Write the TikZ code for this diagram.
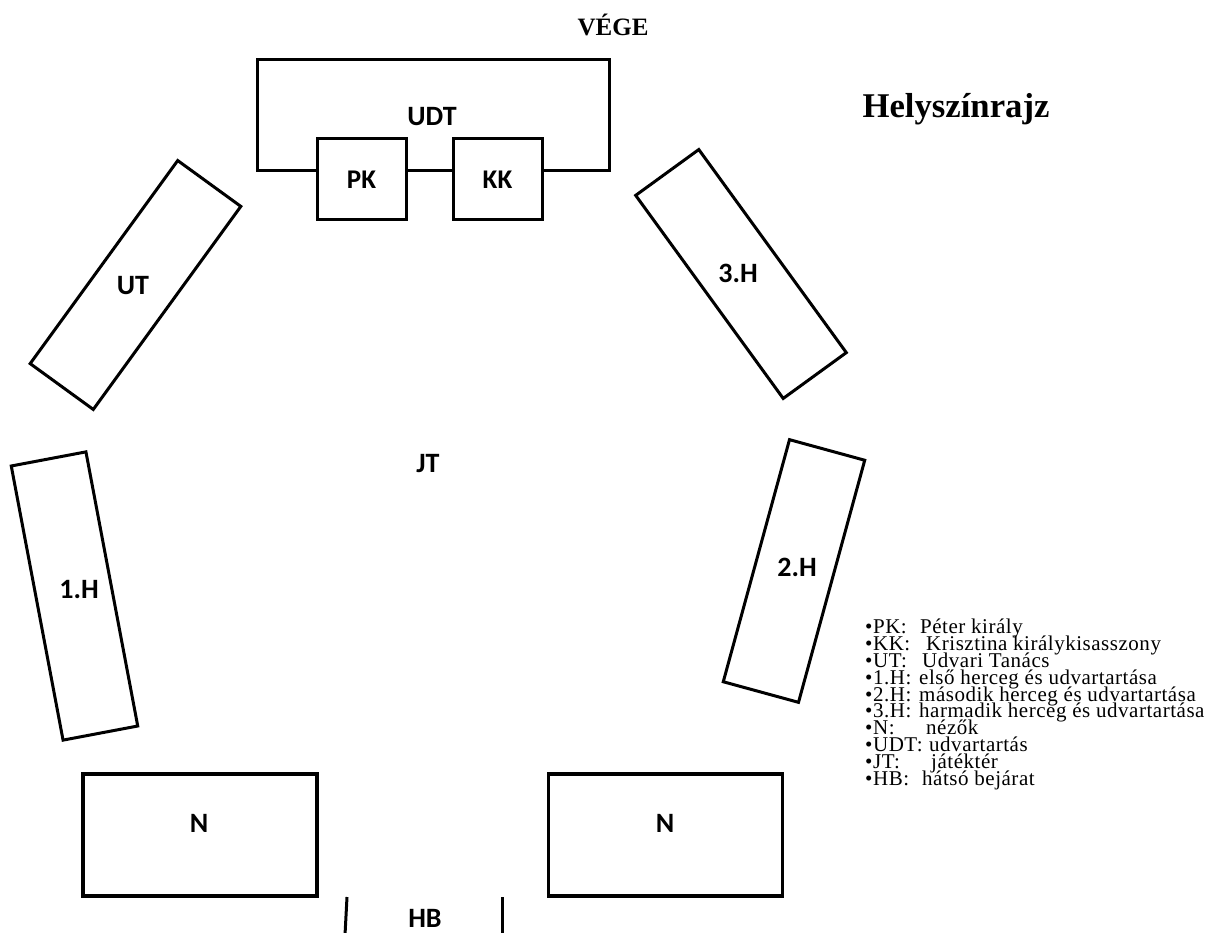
\documentclass[tikz,border=0pt]{standalone}
\usepackage{fontspec}
\setmainfont{Liberation Serif}
\setsansfont{Carlito}
\newfontfamily\legfont[LetterSpace=2.5]{Liberation Serif}
\begin{document}
\begin{tikzpicture}[x=1pt,y=-1pt,
  box/.style={draw, line width=3pt, minimum width=78pt, minimum height=251pt, inner sep=0pt},
  nbox/.style={draw, line width=3.5pt, minimum width=234pt, minimum height=122pt, inner sep=0pt},
  sqbox/.style={draw, line width=3pt, minimum width=89pt, minimum height=81pt, inner sep=0pt, font={\sffamily\bfseries\fontsize{27}{30}\selectfont}},
  lab/.style={inner sep=0pt, font={\sffamily\bfseries\fontsize{28}{30}\selectfont}},
  wall/.style={line width=3pt},
  leg/.style={anchor=north west, inner sep=0pt, align=left,
    font={\legfont\fontsize{21}{16.8}\selectfont\lineskiplimit -100pt\lineskip 0pt}},
  ttl/.style={anchor=base, inner sep=0pt, font={\bfseries\fontsize{25}{25}\selectfont}}
]
\useasboundingbox (0,0) rectangle (1208,933);

% titles
\node[ttl] (vege) at (613,36) {VÉGE};
\node[anchor=base, inner sep=0pt, font={\bfseries\fontsize{34.7}{36}\selectfont}] (title) at (956,118) {Helyszínrajz};

% UDT
\coordinate (udtbl) at (257,171);
\coordinate (udttl) at (257,60);
\coordinate (udttr) at (609,60);
\coordinate (udtbr) at (609,171);
\node[sqbox] (pk) at (361.5,179.5) {PK};
\node[sqbox] (kk) at (497.5,179.5) {KK};
\node[lab] (udt) at (432,117) {UDT};
\draw[wall, line join=miter] (pk.west |- udtbl) -- (udtbl) -- (udttl) -- (udttr) -- (udtbr) -- (kk.east |- udtbr);
\draw[wall] (pk.east |- udtbl) -- (kk.west |- udtbl);

% side boxes
\node[box, rotate=-36] (ut) at (135.5,285) {};
\node[lab] (utt) at (133,286) {UT};
\node[box, rotate=36] (h3) at (741,274) {};
\node[lab] (h3t) at (738,273) {3.H};
\node[box, rotate=10.7, minimum width=76pt, minimum height=279pt] (h1) at (74.5,596) {};
\node[lab] (h1t) at (79,590) {1.H};
\node[box, rotate=-15.3] (h2) at (794,571) {};
\node[lab] (h2t) at (797,567) {2.H};

% playing area
\node[lab] (jt) at (428,464) {JT};

% spectators
\node[nbox] (nl) at (200,835) {};
\node[lab] (nlt) at (199,823) {N};
\node[nbox] (nr) at (665.5,835) {};
\node[lab] (nrt) at (665,823) {N};

% back entrance
\coordinate (hbl1) at (347,897);
\coordinate (hbl2) at (345,935);
\coordinate (hbr1) at (502,897);
\coordinate (hbr2) at (502,935);
\draw[wall] (hbl1) -- (hbl2);
\draw[wall] (hbr1) -- (hbr2);
\node[lab] (hb) at (425,918) {HB};

% legend
\node[leg] (legend) at (865,619) {%
\makebox[55pt][l]{•PK:}Péter király\\
\makebox[61pt][l]{•KK:}Krisztina királykisasszony\\
\makebox[57pt][l]{•UT:}Udvari Tanács\\
\makebox[54pt][l]{•1.H:}első herceg és udvartartása\\
\makebox[54pt][l]{•2.H:}második herceg és udvartartása\\
\makebox[54pt][l]{•3.H:}harmadik herceg és udvartartása\\
\makebox[61pt][l]{•N:}nézők\\
\makebox[64pt][l]{•UDT:}udvartartás\\
\makebox[66pt][l]{•JT:}játéktér\\
\makebox[57pt][l]{•HB:}hátsó bejárat};
\end{tikzpicture}
\end{document}
